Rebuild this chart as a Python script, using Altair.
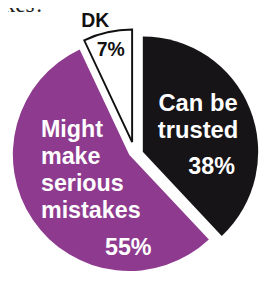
import altair as alt
import pandas as pd

categories = ["Can be trusted", "Might make serious mistakes", "DK"]
values = [38, 55, 7]
colors = ["#161416", "#8e3b8f", "#ffffff"]
name_lines = [["Can be", "trusted"], ["Might", "make", "serious", "mistakes"], ["DK"]]
title_text = "mistakes?"

ends = pd.Series(values).cumsum()
df = pd.DataFrame({
    "category": categories,
    "value": values,
    "start": ends - pd.Series(values),
    "end": ends,
    "pct": [f"{v}%" for v in values],
    "name": name_lines,
})

base = alt.Chart(df)
theta_scale = alt.Scale(domain=[0, 100], range=[0, 6.283185307])
color_scale = alt.Scale(domain=categories, range=colors)


def slice_layer(cat, cx, cy, r, stroke=None, sw=0):
    kw = dict(radius=r)
    if stroke:
        kw.update(stroke=stroke, strokeWidth=sw, strokeJoin="miter")
    return base.transform_filter(alt.datum.category == cat).mark_arc(**kw).encode(
        theta=alt.Theta("start:Q", scale=theta_scale),
        theta2="end:Q",
        color=alt.Color("category:N", scale=color_scale, legend=None),
        x=alt.value(cx),
        y=alt.value(cy),
    )


def text_layer(cat, field, x, y, size, color, align="center", lh=None):
    kw = dict(font="Liberation Sans", fontWeight="bold", fontSize=size,
              color=color, align=align, baseline="alphabetic")
    if lh:
        kw["lineHeight"] = lh
    return base.transform_filter(alt.datum.category == cat).mark_text(**kw).encode(
        text=f"{field}:N" if field == "pct" else alt.Text(field),
        x=alt.value(x),
        y=alt.value(y),
    )


black = slice_layer(categories[0], 139, 144, 119)
purple = slice_layer(categories[1], 125, 147, 120)
dk = slice_layer(categories[2], 128, 134, 116, stroke="#111111", sw=2)

t_trusted = text_layer(categories[0], "name", 196, 102, 24.5, "white", lh=28)
t_38 = text_layer(categories[0], "pct", 210, 167, 24, "white")
t_might = text_layer(categories[1], "name", 34, 129, 24, "white", align="left", lh=27.7)
t_55 = text_layer(categories[1], "pct", 124, 250, 24, "white")
t_dk = text_layer(categories[2], "name", 90, 15, 20, "#111111")
t_7 = text_layer(categories[2], "pct", 106, 45, 20, "#111111")

title = alt.Chart(pd.DataFrame({"t": [title_text]})).mark_text(
    font="Liberation Serif", fontSize=24, align="right", baseline="alphabetic", color="#222222"
).encode(text="t:N", x=alt.value(38), y=alt.value(0))

chart = alt.layer(
    black, purple, dk, t_trusted, t_38, t_might, t_55, t_dk, t_7, title
).properties(
    width=264, height=273, autosize=alt.AutoSizeParams(type="none"), padding=0
).configure_view(stroke=None)

chart.save("out.html", embed_options={"renderer": "svg", "actions": False})
